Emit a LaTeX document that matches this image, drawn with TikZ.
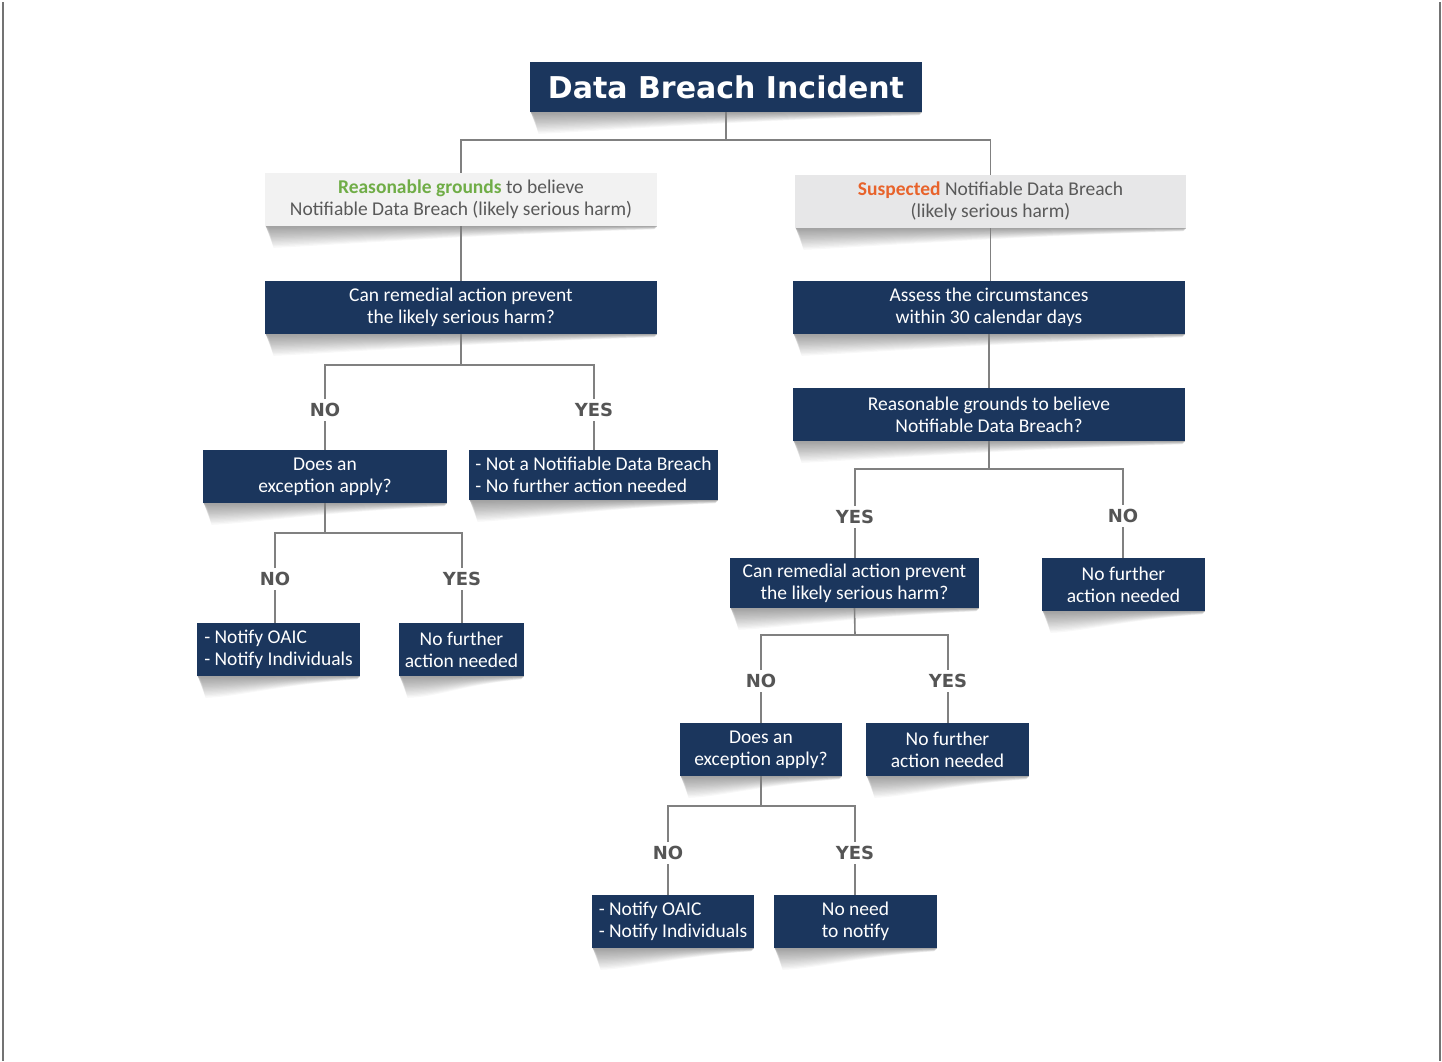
\documentclass[tikz,border=0pt]{standalone}
\usepackage{fontspec}
\setmainfont{Carlito}
\newfontfamily\verd{DejaVu Sans}
\usetikzlibrary{calc}
\definecolor{navy}{RGB}{27,54,93}
\definecolor{lgray}{RGB}{242,242,242}
\definecolor{mgray}{RGB}{231,231,232}
\definecolor{txtgray}{RGB}{89,89,89}
\definecolor{lblgray}{RGB}{85,85,85}
\definecolor{linegray}{RGB}{128,128,128}
\definecolor{okgreen}{RGB}{112,173,71}
\definecolor{suspor}{RGB}{232,99,43}
\pgfdeclarelayer{bg}
\pgfsetlayers{bg,main}
\newcommand\dropshadow[1]{%
  \foreach \k in {1,...,16}{%
    \fill[black, opacity=0.027] ($(#1.south west)+(1,0)$) -- (#1.south east)
      -- ($(#1.south east)+(-3,0.2*\k)$)
      .. controls ($(#1.south)+(0,0.55*\k)$) and ($(#1.south west)+(40,1.3*\k)$)
      .. ($(#1.south west)+(4+0.3*\k,1.35*\k)$) -- cycle;}}
\begin{document}
\begin{tikzpicture}[x=1pt,y=-1pt,
  nbox/.style={fill=navy, text=white, font=\fontsize{19.5}{22}\selectfont, align=center, inner sep=0pt, minimum height=53pt},
  gbox/.style={text=txtgray, font=\fontsize{19.5}{22}\selectfont, align=center, inner sep=0pt, minimum height=53pt},
  lbl/.style={font=\verd\bfseries\fontsize{18}{18}\selectfont, text=lblgray, inner sep=4pt},
  conn/.style={draw=linegray, line width=1.6pt}]
\useasboundingbox (0,0) rectangle (1442,1061);
\draw[draw=black!55, line width=2pt] (3,2) -- (3,1061);
\draw[draw=black!55, line width=2pt] (1440,2) -- (1440,1061);

% title
\node[fill=navy, text=white, font=\verd\bfseries\fontsize{30}{30}\selectfont, minimum width=392pt, minimum height=50pt, inner sep=0pt] (title) at (726,87) {Data Breach Incident};

% gray boxes
\node[gbox, fill=lgray, minimum width=392pt] (g1) at (461,199.5) {\textcolor{okgreen}{\bfseries Reasonable grounds} to believe\\Notifiable Data Breach (likely serious harm)};
\node[gbox, fill=mgray, minimum width=391pt] (g2) at (990.5,201.5) {\textcolor{suspor}{\bfseries Suspected} Notifiable Data Breach\\(likely serious harm)};

% left branch
\node[nbox, minimum width=392pt] (l1) at (461,307.5) {Can remedial action prevent\\the likely serious harm?};
\node[lbl] (nl1) at (325,410) {NO};
\node[lbl] (yl1) at (594,410) {YES};
\node[nbox, minimum width=244pt] (l2) at (325,476.5) {Does an\\exception apply?};
\node[nbox, minimum width=249pt, minimum height=50pt, align=left] (l3) at (593.5,475) {- Not a Notifiable Data Breach\\- No further action needed};
\node[lbl] (nl2) at (275,579) {NO};
\node[lbl] (yl2) at (462,579) {YES};
\node[nbox, minimum width=163pt, align=left] (l4) at (278.5,649.5) {- Notify OAIC\\- Notify Individuals};
\node[nbox, minimum width=125pt] (l5) at (461.5,649.5) {No further\\action needed};

% right branch
\node[nbox, minimum width=392pt] (r1) at (989,307.5) {Assess the circumstances\\within 30 calendar days};
\node[nbox, minimum width=392pt] (r2) at (989,414.5) {Reasonable grounds to believe\\Notifiable Data Breach?};
\node[lbl] (yr1) at (855,517) {YES};
\node[lbl] (nr1) at (1123,516) {NO};
\node[nbox, minimum width=249pt, minimum height=50pt] (r3) at (854.5,583) {Can remedial action prevent\\the likely serious harm?};
\node[nbox, minimum width=163pt] (r4) at (1123.5,584.5) {No further\\action needed};
\node[lbl] (nr2) at (761,681) {NO};
\node[lbl] (yr2) at (948,681) {YES};
\node[nbox, minimum width=162pt] (r5) at (761,749.5) {Does an\\exception apply?};
\node[nbox, minimum width=163pt] (r6) at (947.5,749.5) {No further\\action needed};
\node[lbl] (nr3) at (668,853) {NO};
\node[lbl] (yr3) at (855,853) {YES};
\node[nbox, minimum width=162pt, align=left] (r7) at (673,921.5) {- Notify OAIC\\- Notify Individuals};
\node[nbox, minimum width=163pt] (r8) at (855.5,921.5) {No need\\to notify};

% shadows
\begin{pgfonlayer}{bg}
\foreach \n in {title,g1,g2,l1,l2,l3,l4,l5,r1,r2,r3,r4,r5,r6,r7,r8}{\dropshadow{\n}}
\end{pgfonlayer}

% connectors
\coordinate (j0) at (726,140);
\draw[conn] (title.south) -- (j0);
\draw[conn] (g1.north) |- (j0) -| (g2.north);
\draw[conn] (g1.south) -- (l1.north);
\draw[conn] (g2.south) -- (g2.south |- r1.north);
\draw[conn] (r1.south) -- (r2.north);

\coordinate (j1) at (461,365);
\draw[conn] (l1.south) -- (j1);
\draw[conn] (nl1.north) |- (j1) -| (yl1.north);
\draw[conn] (nl1.south) -- (nl1.south |- l2.north);
\draw[conn] (yl1.south) -- (yl1.south |- l3.north);

\coordinate (j2) at (325,533);
\draw[conn] (l2.south) -- (j2);
\draw[conn] (nl2.north) |- (j2) -| (yl2.north);
\draw[conn] (nl2.south) -- (nl2.south |- l4.north);
\draw[conn] (yl2.south) -- (yl2.south |- l5.north);

\coordinate (j3) at (989,469);
\draw[conn] (r2.south) -- (j3);
\draw[conn] (yr1.north) |- (j3) -| (nr1.north);
\draw[conn] (yr1.south) -- (yr1.south |- r3.north);
\draw[conn] (nr1.south) -- (nr1.south |- r4.north);

\coordinate (j4) at (855,635);
\draw[conn] (r3.south) -- (j4);
\draw[conn] (nr2.north) |- (j4) -| (yr2.north);
\draw[conn] (nr2.south) -- (nr2.south |- r5.north);
\draw[conn] (yr2.south) -- (yr2.south |- r6.north);

\coordinate (j5) at (761,806);
\draw[conn] (r5.south) -- (j5);
\draw[conn] (nr3.north) |- (j5) -| (yr3.north);
\draw[conn] (nr3.south) -- (nr3.south |- r7.north);
\draw[conn] (yr3.south) -- (yr3.south |- r8.north);
\end{tikzpicture}
\end{document}
